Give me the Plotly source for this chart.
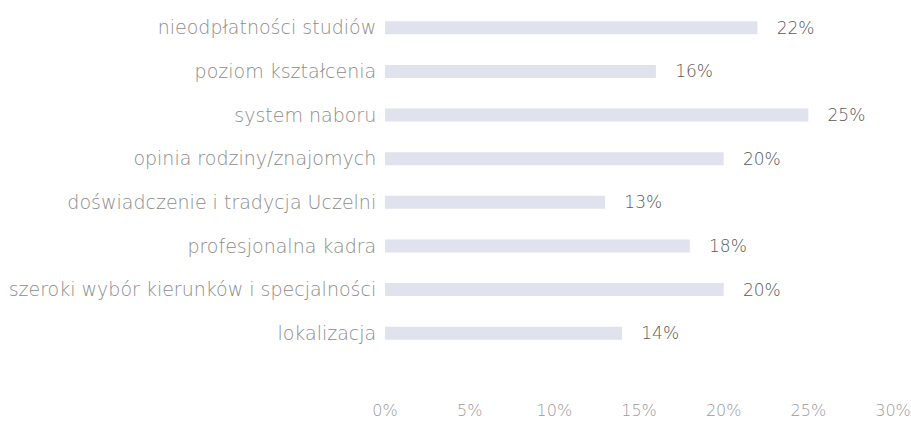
import plotly.graph_objects as go

categories = [
    "nieodpłatności studiów",
    "poziom kształcenia",
    "system naboru",
    "opinia rodziny/znajomych",
    "doświadczenie i tradycja Uczelni",
    "profesjonalna kadra",
    "szeroki wybór kierunków i specjalności",
    "lokalizacja",
]
values = [22, 16, 25, 20, 13, 18, 20, 14]
tick_vals = [0, 5, 10, 15, 20, 25, 30]
tick_text = ["0%", "5%", "10%", "15%", "20%", "25%", "30%"]

FONT = "DejaVu Sans"

fig = go.Figure(
    go.Bar(
        x=values,
        y=categories,
        orientation="h",
        marker=dict(color="#e0e2ee", line=dict(width=0)),
        text=[f"\u00a0\u00a0\u00a0{v}%" for v in values],
        textposition="outside",
        constraintext="none",
        textfont=dict(color="#5a5a5a", size=17, family=FONT, weight=200),
        cliponaxis=False,
        hoverinfo="skip",
    )
)

fig.update_layout(
    width=911,
    height=421,
    margin=dict(l=385, r=18, t=6, b=66),
    paper_bgcolor="white",
    plot_bgcolor="white",
    bargap=0.7,
    showlegend=False,
    font=dict(family=FONT, color="#8c8c8c", size=19, weight=200),
)
fig.update_xaxes(
    range=[0, 30],
    tickvals=tick_vals,
    ticktext=tick_text,
    showgrid=False,
    zeroline=False,
    showline=False,
    ticks="outside",
    ticklen=41,
    tickcolor="rgba(0,0,0,0)",
    tickfont=dict(color="#9a9a9a", size=16, family=FONT, weight=200),
    automargin=False,
)
fig.update_yaxes(
    autorange="reversed",
    showgrid=False,
    showline=False,
    ticks="outside",
    ticklen=4,
    tickcolor="rgba(0,0,0,0)",
    tickfont=dict(color="#8c8c8c", size=19, family=FONT, weight=200),
    automargin=False,
)

fig.write_html(
    "out.html",
    config={"displayModeBar": False},
    post_script="document.body.style.margin='0px';",
)
